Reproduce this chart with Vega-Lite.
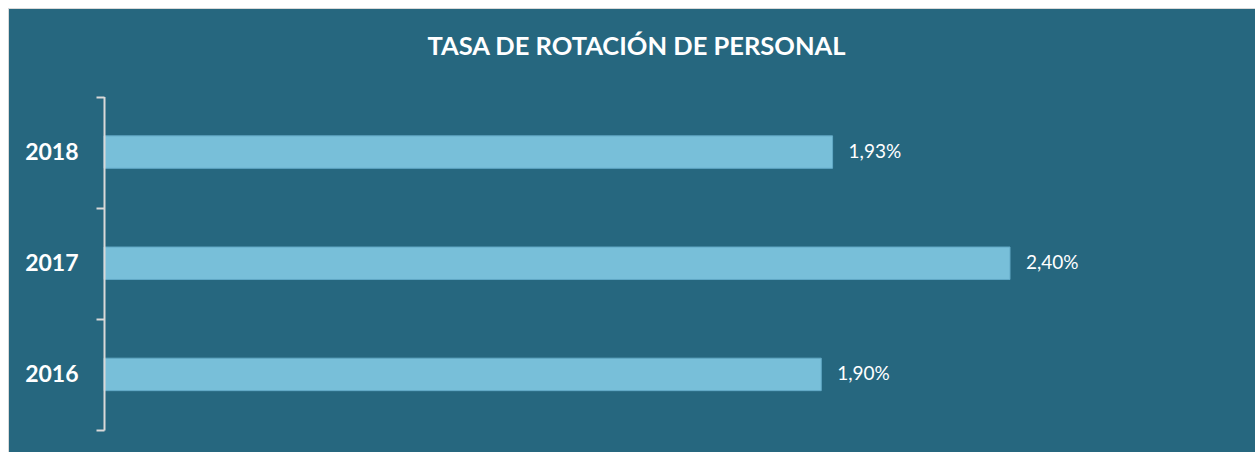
{
  "$schema": "https://vega.github.io/schema/vega-lite/v6.json",
  "width": 1247,
  "height": 444,
  "autosize": {"type": "none"},
  "padding": {"left": 8, "top": 8, "right": 0, "bottom": 0},
  "background": "#ffffff",
  "title": {
    "text": "TASA DE ROTACIÓN DE PERSONAL",
    "anchor": "middle",
    "frame": "group",
    "font": "Lato",
    "fontSize": 25.5,
    "fontWeight": "bold",
    "color": "#ffffff",
    "baseline": "alphabetic",
    "offset": -46,
    "dx": 5,
    "dy": 37
  },
  "data": {
    "values": [
      {"year": "2018", "rate": 0.0193},
      {"year": "2017", "rate": 0.0240},
      {"year": "2016", "rate": 0.0190}
    ]
  },
  "encoding": {
    "y": {
      "field": "year",
      "type": "nominal",
      "sort": ["2018", "2017", "2016"],
      "scale": {"range": [88.5, 422], "paddingInner": 0, "paddingOuter": 0},
      "axis": {
        "title": null,
        "orient": "left",
        "offset": -96,
        "domainColor": "#D9D9D9",
        "domainWidth": 2,
        "tickColor": "#D9D9D9",
        "tickWidth": 2,
        "tickSize": 8,
        "tickBand": "extent",
        "labelPadding": 18,
        "labelFont": "Lato",
        "labelFontSize": 23,
        "labelFontWeight": "bold",
        "labelColor": "#ffffff",
        "zindex": 1
      }
    },
    "x": {
      "field": "rate",
      "type": "quantitative",
      "scale": {"domain": [0, 0.024], "range": [96, 1002], "nice": false, "zero": true},
      "axis": null
    }
  },
  "layer": [
    {
      "mark": {"type": "bar", "height": {"band": 0.292}, "fill": "#78BFD9", "stroke": "#62A9C6", "strokeWidth": 1}
    },
    {
      "mark": {"type": "text", "align": "left", "baseline": "middle", "dx": 16, "font": "Lato", "fontSize": 19, "color": "#ffffff"},
      "encoding": {"text": {"field": "rate", "type": "quantitative", "format": ".2%"}}
    }
  ],
  "config": {
    "view": {"fill": "#26677F", "stroke": "#D9D9D9", "strokeWidth": 1},
    "locale": {"number": {"decimal": ",", "thousands": ".", "grouping": [3], "currency": ["", " €"], "percent": "%"}}
  }
}
